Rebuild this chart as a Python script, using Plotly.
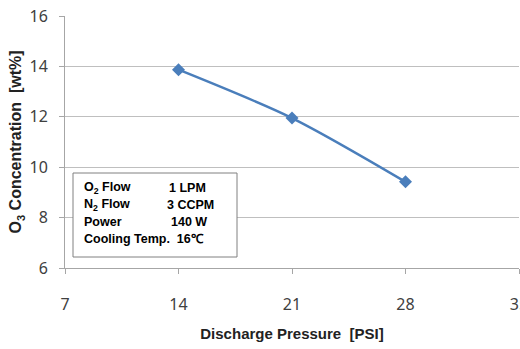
import plotly.graph_objects as go

pressure = [14, 21, 28]
concentration = [13.87, 11.95, 9.42]
x_ticks = [7, 14, 21, 28, 35]
y_ticks = [6, 8, 10, 12, 14, 16]

W, H = 520, 349
L, R, T, B = 65, 1, 16, 81
PW, PH = W - L - R, H - T - B

def px(x):
    return (x - L) / PW

def py(y):
    return (H - B - y) / PH

fig = go.Figure()
fig.add_trace(go.Scatter(
    x=pressure, y=concentration, mode="lines+markers",
    line=dict(color="#4A7EBB", width=2.5, shape="spline", smoothing=0.8),
    marker=dict(symbol="diamond", size=10, color="#4A7EBB"),
    showlegend=False,
))

tickfont = dict(family="Noto Sans, Open Sans, sans-serif", size=16, color="#404040")
xtitlefont = dict(family="Liberation Sans, Arial, sans-serif", size=15, color="#222222")
ytitlefont = dict(family="Liberation Sans, Arial, sans-serif", size=16, color="#222222")

fig.update_layout(
    width=W, height=H,
    margin=dict(l=L, r=R, t=T, b=B, autoexpand=False),
    paper_bgcolor="white", plot_bgcolor="white",
    xaxis=dict(
        range=[7, 35], tickvals=x_ticks, ticktext=[str(v) for v in x_ticks],
        showgrid=False, zeroline=False, automargin=False,
        showline=True, linecolor="#A6A6A6", linewidth=1,
        ticks="outside", ticklen=5, tickcolor="#A6A6A6",
        tickfont=tickfont, ticklabelstandoff=17, ticklabeloverflow="allow",
        title=dict(text="<b>Discharge Pressure  [PSI]</b>", font=xtitlefont, standoff=14),
    ),
    yaxis=dict(
        range=[6, 16], tickvals=y_ticks,
        showgrid=True, gridcolor="#BFBFBF", gridwidth=1, zeroline=False, automargin=False,
        showline=True, linecolor="#A6A6A6", linewidth=1,
        ticks="outside", ticklen=5, tickcolor="#A6A6A6",
        tickfont=tickfont, ticklabelstandoff=8, ticklabeloverflow="allow",
        title=dict(text="<b>O<sub>3</sub> Concentration  [wt%]</b>", font=ytitlefont, standoff=3),
    ),
)

# Info box
fig.add_shape(type="rect", xref="paper", yref="paper",
              x0=px(73), x1=px(237), y0=py(257), y1=py(173),
              line=dict(color="#808080", width=1), fillcolor="white")

boxfont = dict(family="Liberation Sans, Arial, sans-serif", size=12.5, color="black")
rows = [
    (188, "<b>O<sub>2</sub> Flow</b>", 167, "<b>1 LPM</b>"),
    (205, "<b>N<sub>2</sub> Flow</b>", 165, "<b>3 CCPM</b>"),
    (222, "<b>Power</b>", 169, "<b>140 W</b>"),
    (239, "<b>Cooling Temp.  16℃</b>", None, None),
]
for yy, left, xr, right in rows:
    fig.add_annotation(xref="paper", yref="paper", x=px(82), y=py(yy),
                       xanchor="left", yanchor="middle", text=left,
                       showarrow=False, font=boxfont)
    if right:
        fig.add_annotation(xref="paper", yref="paper", x=px(xr), y=py(yy),
                           xanchor="left", yanchor="middle", text=right,
                           showarrow=False, font=boxfont)

fig.write_html("out.html")
